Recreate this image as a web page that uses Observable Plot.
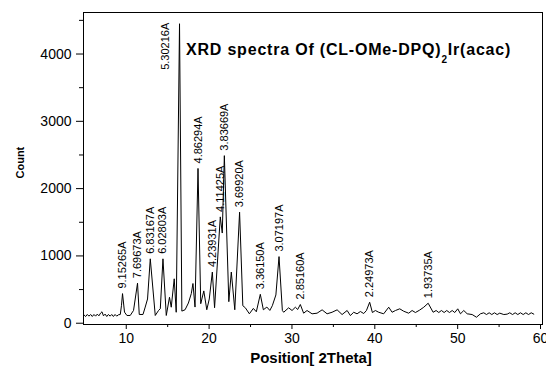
<!DOCTYPE html>
<html><head><meta charset="utf-8">
<script src="https://cdn.jsdelivr.net/npm/d3@7"></script>
<script src="https://cdn.jsdelivr.net/npm/@observablehq/plot@0.6"></script>
<style>body{margin:0;background:#fff;} svg{display:block}</style>
</head><body><div id="chart"></div>
<script>
// 2Theta positions and counts of the XRD trace
const theta = [4.93,5.10,5.30,5.50,5.70,5.90,6.10,6.30,6.50,6.70,6.90,7.07,7.25,7.45,7.65,7.85,8.05,8.25,8.45,8.65,8.85,9.05,9.28,9.42,9.55,9.79,10.08,10.48,10.88,11.36,11.57,12.02,12.29,12.57,12.90,13.50,13.90,14.11,14.43,14.83,15.22,15.43,15.79,16.03,16.43,16.71,17.10,17.50,17.85,18.05,18.30,18.66,18.99,19.36,19.72,20.02,20.39,20.66,21.35,21.59,21.84,22.38,22.68,23.10,23.68,24.07,24.37,24.86,25.34,25.70,26.18,26.55,26.97,27.33,27.63,28.06,28.44,28.84,29.00,29.60,30.01,30.41,30.69,31.01,31.41,31.82,32.43,33.03,33.64,34.24,34.84,35.45,36.05,36.66,37.05,37.45,37.86,38.26,38.66,38.99,39.38,39.71,40.07,40.47,41.07,41.68,42.09,42.49,43.01,43.49,44.09,44.50,44.90,45.39,45.91,46.44,47.04,47.40,47.72,48.04,48.37,48.68,49.01,49.34,49.65,50.01,50.34,50.74,51.15,51.75,52.27,52.75,53.15,53.48,53.80,54.12,54.44,54.77,55.08,55.57,55.98,56.29,56.62,56.94,57.26,57.58,57.91,58.23,58.55,58.88,59.19];
const counts = [120,100,130,105,130,100,130,105,135,110,150,170,110,135,100,130,105,130,100,130,105,125,130,260,440,165,115,115,190,595,130,130,240,360,957,115,190,215,957,115,386,238,660,163,4450,180,200,300,440,590,240,2300,290,480,200,360,760,230,1580,1340,2490,320,760,200,1650,260,230,140,220,170,430,200,240,190,260,420,990,190,163,229,189,238,204,278,149,189,140,149,199,140,163,199,129,189,114,163,140,174,144,189,312,159,189,163,140,238,163,189,214,178,149,189,159,193,238,297,163,189,159,189,159,189,159,189,159,214,140,189,140,129,89,140,155,129,155,129,155,129,150,129,135,155,129,155,129,155,129,155,129,155,135];

// Peak annotations (d-spacings)
const peakLabels = ["9.15265A","7.69673A","6.83167A","6.02803A","4.86294A","4.23931A","4.11425A","3.83669A","3.69920A","3.36150A","3.07197A","2.85160A","2.24973A","1.93735A"];
const peakTheta  = [9.55,11.36,12.90,14.43,18.66,20.39,21.35,21.84,23.68,26.18,28.44,31.01,39.38,46.44];
const peakCount  = [440,595,957,957,2300,760,1580,2490,1650,430,990,278,312,297];
const mainPeakLabel = ["5.30216A"];
const mainPeakTheta = [16.43];
const mainPeakCount = [4450];

const xTicks = [10,20,30,40,50,60];
const xMinor = [15,25,35,45,55];
const yTicks = [0,1000,2000,3000,4000];
const yMinor = [500,1500,2500,3500,4500];

const titleMain = "XRD spectra Of (CL-OMe-DPQ)";
const titleSub = "2";
const titleEnd = "Ir(acac)";
const xLabel = "Position[ 2Theta]";
const yLabel = "Count";

const data = theta.map((t, i) => ({t, c: counts[i]}));
const peaks = peakLabels.map((l, i) => ({l, t: peakTheta[i], c: peakCount[i]}));
const mainPeak = mainPeakLabel.map((l, i) => ({l, t: mainPeakTheta[i], c: mainPeakCount[i]}));

const font = "'Liberation Sans', Arial, Helvetica, sans-serif";
const fmt = d3.format("d");

const svg = Plot.plot({
  width: 546,
  height: 369,
  marginLeft: 83,
  marginRight: 4,
  marginTop: 12,
  marginBottom: 45,
  style: {fontFamily: font, background: "#fff", color: "#000", overflow: "visible"},
  x: {domain: [4.84, 60.24], label: null},
  y: {domain: [-19, 4617], label: null},
  marks: [
    Plot.frame({stroke: "#000", strokeWidth: 1}),
    Plot.axisX(xTicks, {tickSize: 5, tickPadding: 4, fontSize: 14, tickFormat: fmt, label: null, stroke: "#000"}),
    Plot.axisX(xMinor, {tickSize: 3, tickFormat: () => "", label: null, stroke: "#000"}),
    Plot.axisY(yTicks, {tickSize: 7, tickPadding: 5, fontSize: 14, tickFormat: fmt, label: null, stroke: "#000"}),
    Plot.axisY(yMinor, {tickSize: 4, tickFormat: () => "", label: null, stroke: "#000"}),
    Plot.line(data, {x: "t", y: "c", stroke: "#000", strokeWidth: 1}),
    Plot.text(peaks, {x: "t", y: "c", text: "l", rotate: -90, textAnchor: "start", dy: -5, fontSize: 11, fill: "#000"}),
    Plot.text(mainPeak, {x: "t", y: "c", text: "l", rotate: -90, textAnchor: "end", dx: -14, dy: -1, fontSize: 11, fill: "#000"}),
    Plot.text([yLabel], {frameAnchor: "left", dx: -63, dy: 10, rotate: -90, fontSize: 11, fontWeight: "bold", fill: "#000"}),
    Plot.text([xLabel], {frameAnchor: "bottom", dx: -2, dy: 38, fontSize: 15, fontWeight: "bold", fill: "#000", style: "letter-spacing:0.2px"})
  ]
});

// Title with subscript
const t = d3.select(svg).append("text")
  .attr("x", 186).attr("y", 55)
  .attr("text-anchor", "start")
  .attr("font-family", font).attr("font-weight", "bold").attr("font-size", 16)
  .attr("letter-spacing", "0.8px").attr("fill", "#000");
t.append("tspan").text(titleMain);
t.append("tspan").attr("font-size", 10).attr("dy", 8).text(titleSub);
t.append("tspan").attr("font-size", 16).attr("dy", -8).text(titleEnd);

document.getElementById("chart").appendChild(svg);
</script>
</body></html>
